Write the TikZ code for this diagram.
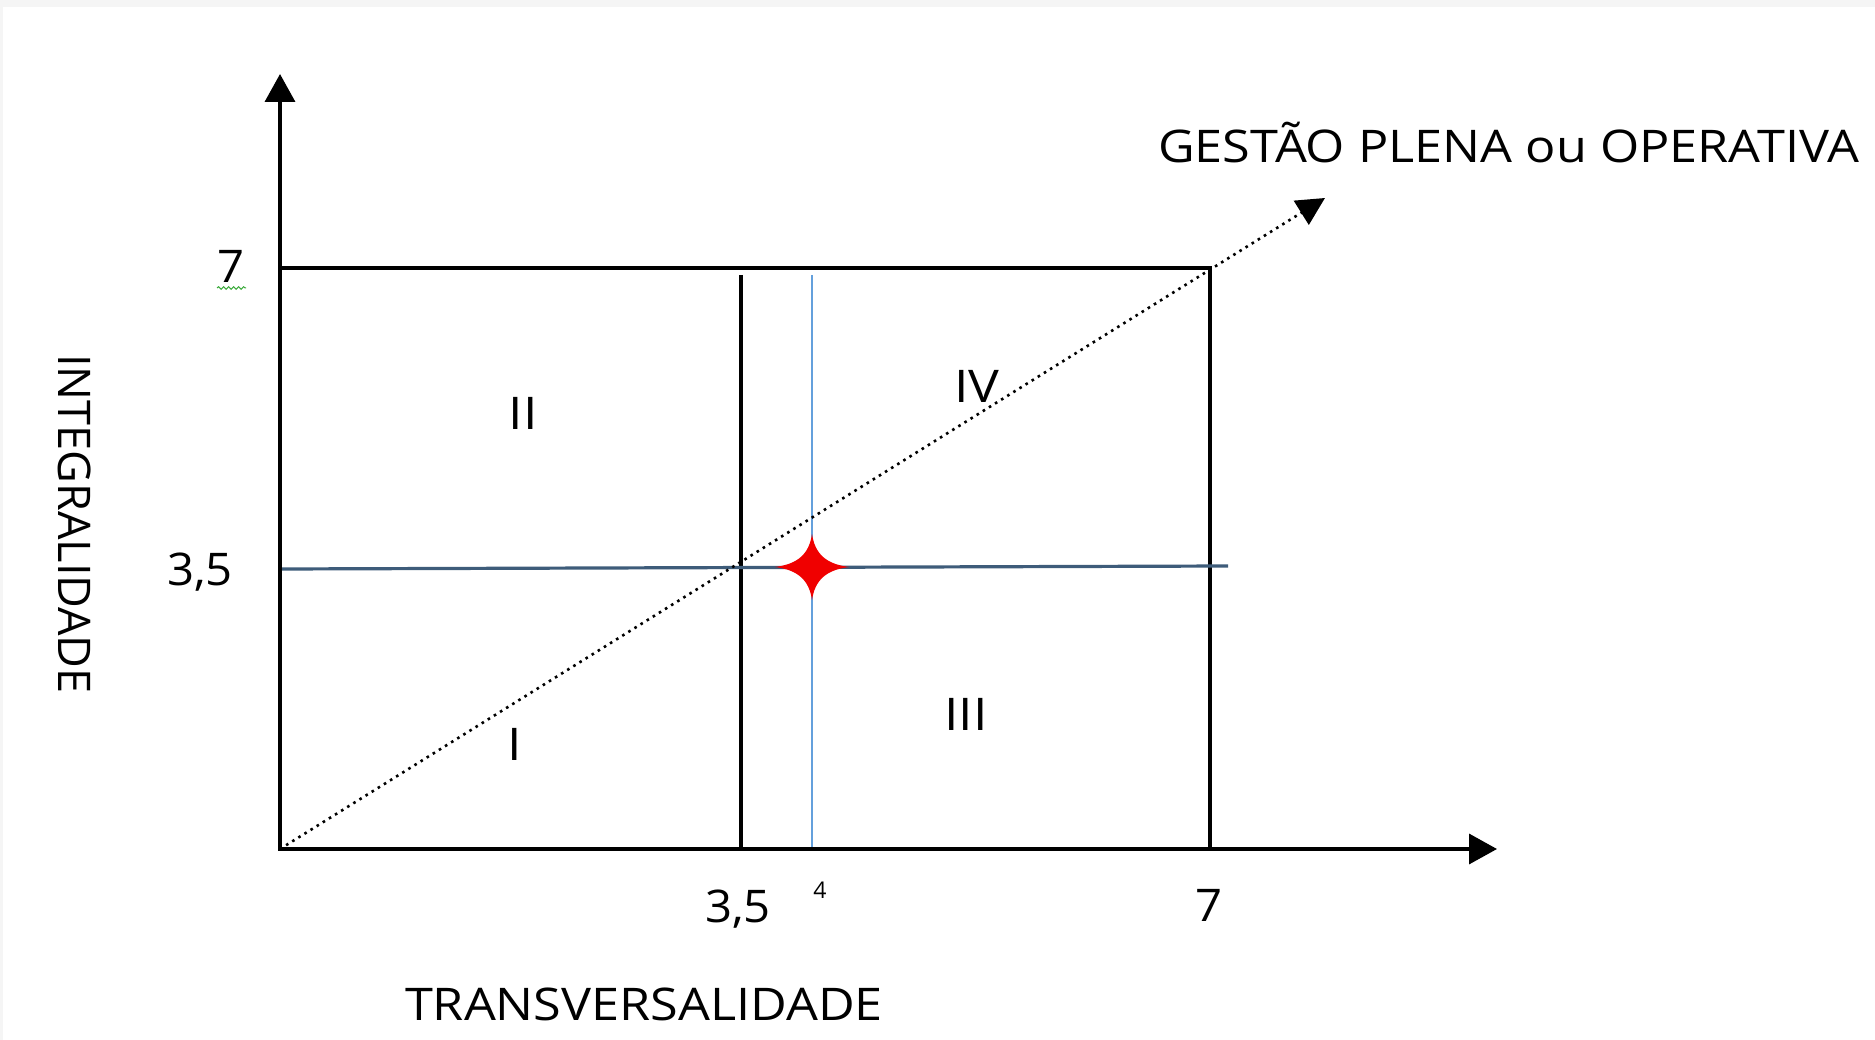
\documentclass[tikz,border=0pt]{standalone}
\usepackage{fontspec}
\setmainfont{Open Sans}
\usetikzlibrary{arrows.meta,decorations.pathmorphing}
\definecolor{hline}{RGB}{62,92,122}
\definecolor{vblue}{RGB}{100,160,220}
\definecolor{starred}{RGB}{240,0,0}
\definecolor{spell}{RGB}{60,170,60}
\begin{document}
\begin{tikzpicture}[x=1pt,y=-1pt,
  axis/.style={line width=3.6pt,-{Triangle[length=28pt,width=30pt]}},
  frame/.style={line width=3.4pt},
  lbl/.style={inner sep=0pt,font=\fontsize{45}{50}\selectfont},
  wide/.style={lbl,xscale=1.12},
  num/.style={lbl,xscale=1.05},
  quad/.style={inner sep=0pt,font=\fontsize{45}{50}\selectfont,xscale=1.15},
  diag/.style={line width=2.6pt,dash pattern=on 2.6pt off 4.6pt,-{Triangle[length=28pt,width=28pt]}}]
\useasboundingbox (0,0) rectangle (1875,1040);
\fill[gray!8] (0,0) rectangle (1875,7);
\fill[gray!8] (0,0) rectangle (3,1040);
% coordinates
\coordinate (O) at (280,849);
\coordinate (ytip) at (280,74);
\coordinate (xtip) at (1497,849);
\coordinate (TL) at (280,268);
\coordinate (TR) at (1210,268);
\coordinate (BR) at (1210,849);
\coordinate (mT) at (741,275);
\coordinate (mB) at (741,849);
\coordinate (bT) at (812,275);
\coordinate (bB) at (812,849);
\coordinate (hL) at (281,569);
\coordinate (hR) at (1228,566);
\coordinate (dtip) at (1325,198);
\coordinate (S) at (812,567);
% frame
\draw[frame] (TL) -- (TR) -- (BR);
\draw[frame] (mT) -- (mB);
\draw[vblue,line width=1.8pt] (bT) -- (bB);
\draw[hline,line width=3.2pt] (hL) -- (hR);
% axes
\draw[axis] (O) -- (ytip);
\draw[axis] ([xshift=-1.8pt]O) -- (xtip);
% diagonal
\draw[diag] (O) -- (dtip);
% star
\fill[starred] (S) ++(-37,0) .. controls ++(23,-3) and ++(-3,20) .. ++(37,-33)
  .. controls ++(3,20) and ++(-23,-3) .. ++(37,33)
  .. controls ++(-23,3) and ++(3,-20) .. ++(-37,33)
  .. controls ++(-3,-20) and ++(23,3) .. ++(-37,-33) -- cycle;
% labels
\node[num] (l7y) at (231,266) {7};
\draw[spell,line width=1pt,decorate,decoration={snake,amplitude=1.3pt,segment length=5pt}] (217,288) -- (246,288);
\node[num] (l35y) at (200,572) {3,5};
\node[lbl,rotate=-90] (ylab) at (75,524) {INTEGRALIDADE};
\node[num] (l35x) at (738,909) {3,5};
\node[inner sep=0pt,font=\fontsize{23}{25}\selectfont] (l4) at (820,890) {4};
\node[num] (l7x) at (1209,905) {7};
\node[wide] (xlab) at (644,1004) {TRANSVERSALIDADE};
\node[wide,anchor=west] (glab) at (1158,143) {GESTÃO PLENA ou OPERATIVA};
\node[quad] (qII) at (523,413) {II};
\node[quad] (qIV) at (977,386) {IV};
\node[quad] (qIII) at (966,714) {III};
\node[quad] (qI) at (515,744) {I};
\end{tikzpicture}
\end{document}
